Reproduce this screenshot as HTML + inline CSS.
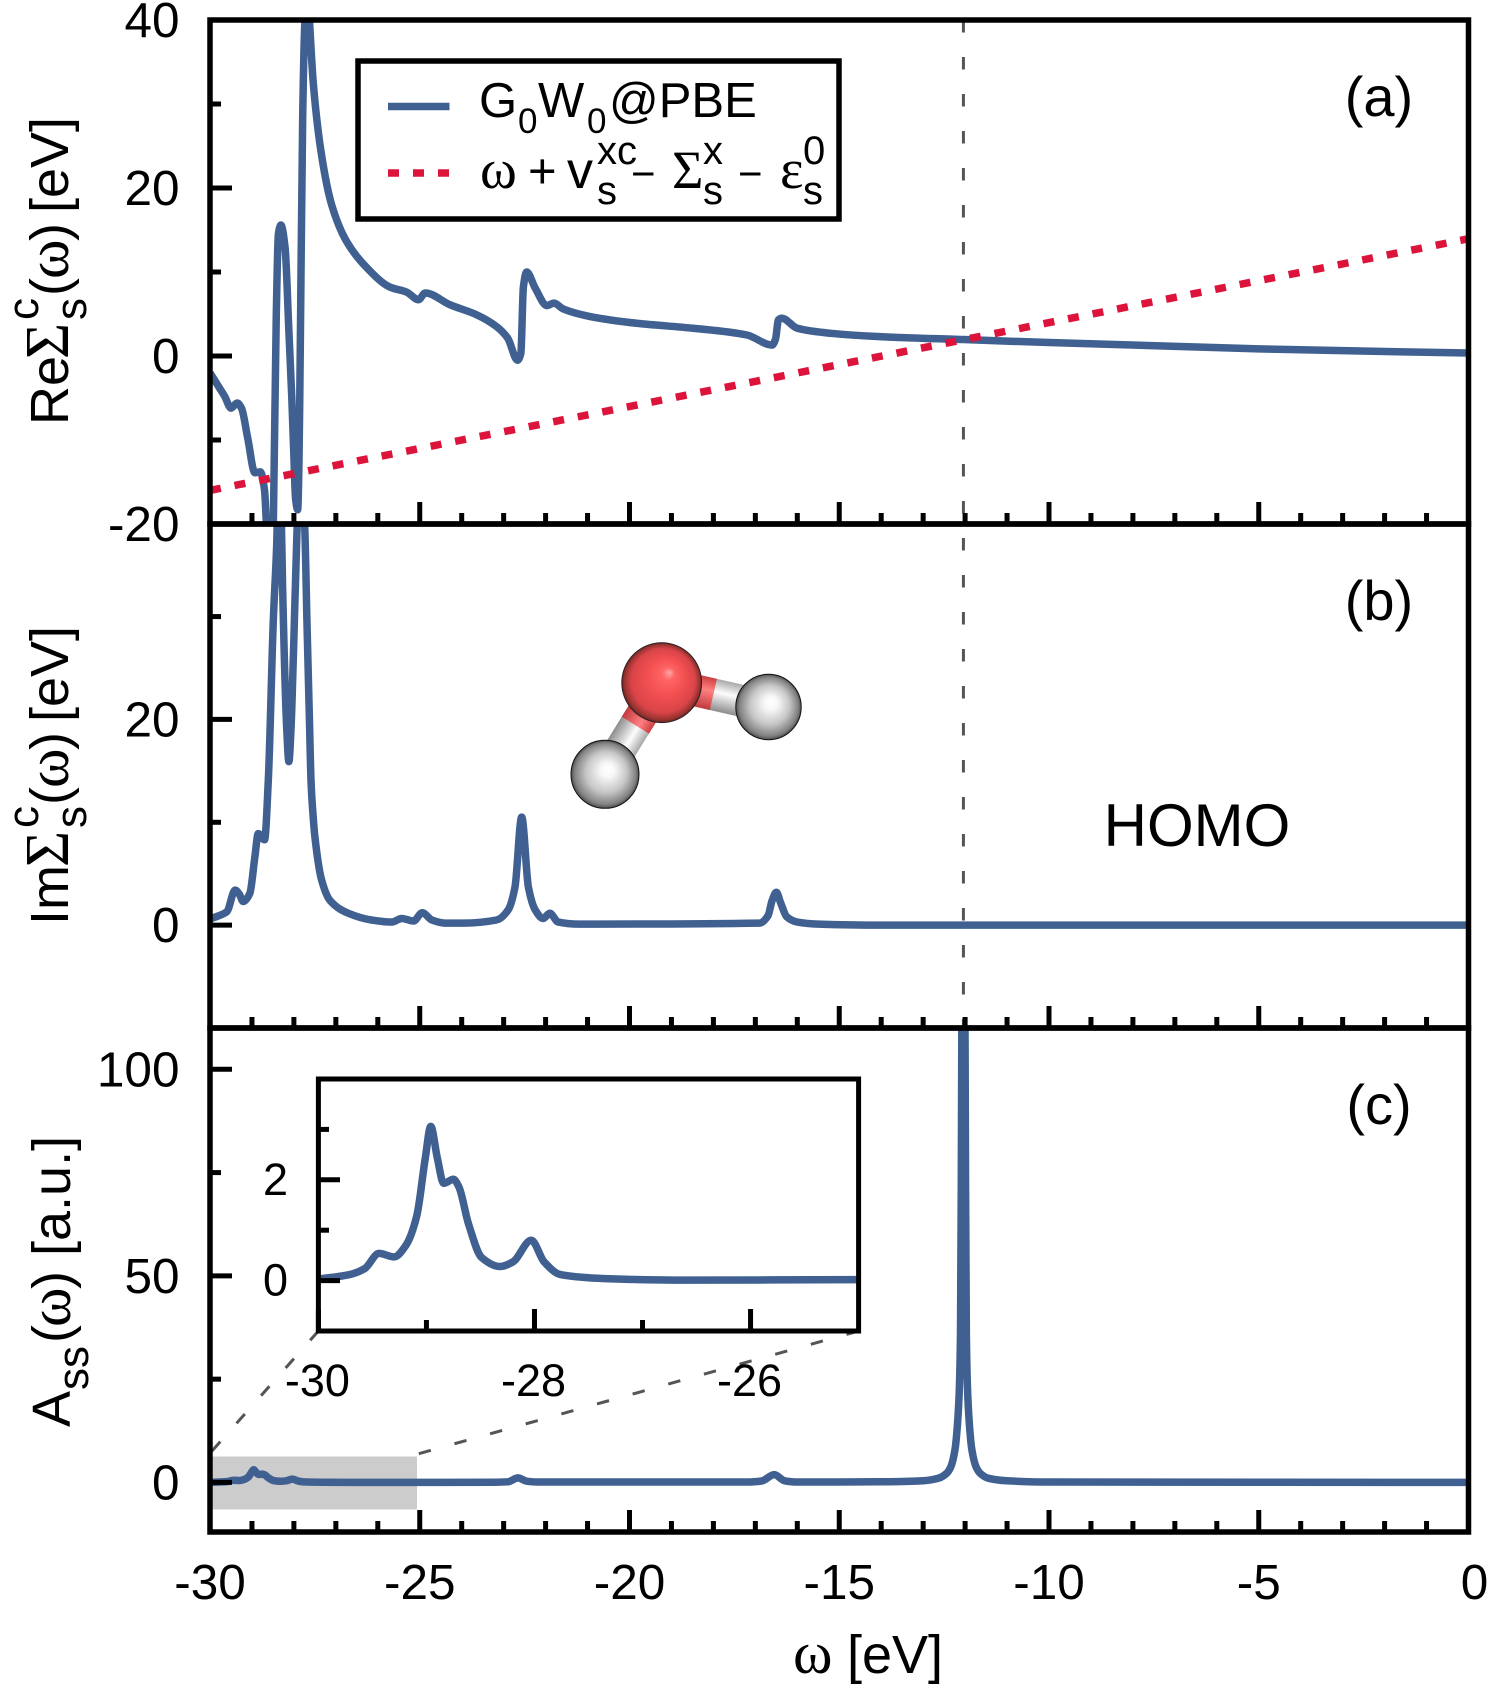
<!DOCTYPE html>
<html lang="en">
<head>
<meta charset="utf-8">
<title>G0W0 self-energy and spectral function of the water HOMO</title>
<style>
html,body{margin:0;padding:0;background:#fff;width:1500px;height:1700px;overflow:hidden}
svg{display:block}
text{font-family:"Liberation Sans",sans-serif;fill:#000}
.serif{font-family:"Liberation Serif",serif}
</style>
</head>
<body>
<svg id="figure" xmlns="http://www.w3.org/2000/svg" width="1500" height="1700" viewBox="0 0 1500 1700">
  <defs>
    <clipPath id="clip-a"><rect x="210" y="20" width="1258.5" height="504"/></clipPath>
    <clipPath id="clip-b"><rect x="210" y="524" width="1258.5" height="504"/></clipPath>
    <clipPath id="clip-c"><rect x="210" y="1028" width="1258.5" height="504"/></clipPath>
    <clipPath id="clip-inset"><rect x="318.4" y="1079" width="540.2" height="252"/></clipPath>
    <radialGradient id="oxygen-shade" cx="0.5" cy="0.5" r="0.5" fx="0.6" fy="0.37">
      <stop offset="0" stop-color="#ffa8a8"/><stop offset="0.16" stop-color="#ff6464"/>
      <stop offset="0.45" stop-color="#f45052"/><stop offset="0.8" stop-color="#d94448"/>
      <stop offset="0.95" stop-color="#94322f"/><stop offset="1" stop-color="#5c1f20"/>
    </radialGradient>
    <radialGradient id="hydrogen-shade" cx="0.5" cy="0.5" r="0.5" fx="0.55" fy="0.42">
      <stop offset="0" stop-color="#ffffff"/><stop offset="0.2" stop-color="#f8f8f8"/>
      <stop offset="0.6" stop-color="#c6c6c6"/><stop offset="0.9" stop-color="#828282"/><stop offset="1" stop-color="#4e4e4e"/>
    </radialGradient>
    <linearGradient id="bond-grey" x1="0" y1="0" x2="0" y2="1">
      <stop offset="0" stop-color="#a8a8a8"/><stop offset="0.4" stop-color="#fdfdfd"/><stop offset="1" stop-color="#8c8c8c"/>
    </linearGradient>
    <linearGradient id="bond-red" x1="0" y1="0" x2="0" y2="1">
      <stop offset="0" stop-color="#cf3f42"/><stop offset="0.4" stop-color="#ff8080"/><stop offset="1" stop-color="#c23a3d"/>
    </linearGradient>
  </defs>

  <g id="layer-gray">
    <rect x="212" y="1456.5" width="205" height="53" fill="#cccccc"/>
  </g>
  <g id="layer-guides">
    <line x1="212" y1="1451" x2="318.4" y2="1331" stroke="#555" stroke-width="3" stroke-dasharray="12.5 24.5"/>
    <line x1="418.8" y1="1453.7" x2="858.6" y2="1331" stroke="#555" stroke-width="3" stroke-dasharray="12.5 24.5"/>
  </g>
  <g id="layer-curves"></g>

  <g>
    <g transform="translate(661.7,682.7) rotate(121.8)">
      <rect x="0" y="-16" width="108" height="32" fill="url(#bond-grey)"/>
      <rect x="0" y="-16" width="50" height="32" fill="url(#bond-red)"/>
    </g>
    <g transform="translate(661.7,682.7) rotate(12.8)">
      <rect x="0" y="-16" width="108" height="32" fill="url(#bond-grey)"/>
      <rect x="0" y="-16" width="53" height="32" fill="url(#bond-red)"/>
    </g>
    <circle cx="661.7" cy="682.7" r="40" fill="url(#oxygen-shade)" stroke="#222" stroke-width="0.8"/>
    <circle cx="605" cy="774.3" r="34" fill="url(#hydrogen-shade)" stroke="#111" stroke-width="1"/>
    <circle cx="768.5" cy="707" r="32.7" fill="url(#hydrogen-shade)" stroke="#111" stroke-width="1"/>
  </g>

  <g fill="none" stroke="#000" stroke-width="5.5">
    <rect x="210" y="20" width="1258.5" height="504"/>
    <rect x="210" y="524" width="1258.5" height="504"/>
    <rect x="210" y="1028" width="1258.5" height="504"/>
    <rect x="318.4" y="1079" width="540.2" height="252" stroke-width="5"/>
  </g>
  <g id="layer-axes"></g>

  <g>
    <rect x="358" y="61" width="481" height="158" fill="#fff" stroke="#000" stroke-width="5.5"/>
    <line x1="388" y1="106.5" x2="449.5" y2="106.5" stroke="#3f6090" stroke-width="7.5"/>
    <line x1="388" y1="173" x2="449" y2="173" stroke="#dc143c" stroke-width="7.5" stroke-dasharray="11 14"/>
    <g font-size="49">
      <text x="479" y="117">G</text>
      <text x="518" y="133" font-size="35">0</text>
      <text x="538" y="117">W</text>
      <text x="587" y="133" font-size="35">0</text>
      <text x="609" y="117">@PBE</text>
    </g>
    <g font-size="49">
      <text class="serif" x="480" y="188" font-size="56">ω</text>
      <text x="528" y="188">+</text>
      <text x="567" y="188" font-size="52">v</text>
      <text x="597" y="164" font-size="40">xc</text>
      <text x="597" y="204" font-size="40">s</text>
      <text x="631" y="188" font-size="42">−</text>
      <text class="serif" x="672" y="188" font-size="54">Σ</text>
      <text x="703" y="164" font-size="40">x</text>
      <text x="703" y="204" font-size="40">s</text>
      <text x="738" y="188" font-size="42">−</text>
      <text class="serif" x="780" y="188" font-size="56">ε</text>
      <text x="803" y="164" font-size="40">0</text>
      <text x="803" y="204" font-size="40">s</text>
    </g>
  </g>

  <text x="1379" y="116" font-size="56" text-anchor="middle">(a)</text>
  <text x="1379" y="620" font-size="56" text-anchor="middle">(b)</text>
  <text x="1379" y="1124" font-size="56" text-anchor="middle">(c)</text>
  <text x="1197" y="846" font-size="60" text-anchor="middle">HOMO</text>

  <g transform="translate(68,425) rotate(-90)" font-size="54">
    <text x="0" y="0">Re</text>
    <text class="serif" x="66" y="0" font-size="62">Σ</text>
    <text x="105" y="-30" font-size="44">c</text>
    <text x="105" y="18" font-size="44">s</text>
    <text x="129" y="0">(</text>
    <text class="serif" x="146" y="0" font-size="60">ω</text>
    <text x="184" y="0">)</text>
    <text x="212" y="0">[eV]</text>
  </g>
  <g transform="translate(68,925) rotate(-90)" font-size="54">
    <text x="0" y="0">Im</text>
    <text class="serif" x="58" y="0" font-size="62">Σ</text>
    <text x="97" y="-30" font-size="44">c</text>
    <text x="97" y="18" font-size="44">s</text>
    <text x="120" y="0">(</text>
    <text class="serif" x="137" y="0" font-size="60">ω</text>
    <text x="175" y="0">)</text>
    <text x="203" y="0">[eV]</text>
  </g>
  <g transform="translate(70,1427) rotate(-90)" font-size="54">
    <text x="0" y="0">A</text>
    <text x="37" y="18" font-size="44">ss</text>
    <text x="84" y="0">(</text>
    <text class="serif" x="100" y="0" font-size="60">ω</text>
    <text x="138" y="0">)</text>
    <text x="171" y="0">[a.u.]</text>
  </g>
  <g font-size="54">
    <text class="serif" x="793" y="1673" font-size="60">ω</text>
    <text x="847" y="1673">[eV]</text>
  </g>
</svg>

<script>
// ---- Panel (a): Re Sigma^c_s(omega) ----
const reOmega = [-30,-29.8,-29.65,-29.5,-29.35,-29.25,-29.1,-28.93,-28.8,-28.7,-28.65,-28.55,-28.49,-28.42,-28.37,-28.31,-28.21,-28.12,-28.05,-28,-27.96,-27.91,-27.88,-27.86,-27.84,-27.79,-27.74,-27.68,-27.63,-27.54,-27.34,-27.1,-26.74,-26.26,-25.71,-25.31,-25.03,-24.87,-24.28,-23.64,-23.17,-22.9,-22.67,-22.59,-22.53,-22.45,-22.25,-21.97,-21.8,-21.58,-20.94,-19.83,-18.48,-17.2,-16.6,-16.52,-16.45,-16.37,-16,-15.2,-14.03,-12.04,-10,-5,0];
const reValues = [-2,-3.6,-4.8,-6.2,-5.6,-6.2,-9.8,-13.9,-13.8,-16,-20.7,-32,-20,4.9,14.5,15.6,12.9,3,-5,-12,-17,-18.3,-13,-5,5,28.7,39.6,44,40,32.6,23.9,18,13.6,10.5,8.2,7.6,6.7,7.5,6.1,4.9,3.5,2.1,-0.5,0.3,8.2,10,8.1,6,6.3,5.6,4.7,3.9,3.3,2.5,1.3,2,4.3,4.5,3.3,2.7,2.3,1.96,1.6,0.85,0.35];
// Linear graphical-solution line: two end points
const lineOmega = [-30,0];
const lineValues = [-16,13.96];

// ---- Panel (b): Im Sigma^c_s(omega) ----
const imOmega = [-30,-29.8,-29.6,-29.4,-29.3,-29.21,-29.05,-28.93,-28.85,-28.7,-28.61,-28.49,-28.41,-28.36,-28.3,-28.27,-28.17,-28.12,-28.07,-28.01,-27.93,-27.85,-27.74,-27.69,-27.63,-27.59,-27.54,-27.5,-27.34,-27.14,-26.7,-26.15,-25.67,-25.43,-25.15,-24.94,-24.71,-24.4,-23.96,-23.17,-22.89,-22.73,-22.57,-22.41,-22.25,-22.06,-21.9,-21.7,-21.2,-16.9,-16.7,-16.6,-16.5,-16.4,-16.25,-16,-15.5,-14,0];
const imValues = [0.6,0.9,1.3,3.4,3,2.3,3.1,6.65,8.9,8.3,14.1,29.7,37,45,39.5,33,19,15.9,19,26.5,37.8,46,38.5,29.7,20,13.8,10.5,8.6,4.4,2.4,1.15,0.5,0.3,0.65,0.4,1.2,0.5,0.2,0.2,0.5,1.5,3.7,10.5,3.7,1.5,0.65,1.15,0.3,0.1,0.2,0.9,2.4,3.2,2.2,0.8,0.3,0.1,0,0];

// ---- Panel (c) and inset: spectral function A_ss(omega) ----
const specOmega = [-30,-29.71,-29.57,-29.44,-29.3,-29.19,-29.09,-29.01,-28.96,-28.9,-28.84,-28.75,-28.7,-28.61,-28.49,-28.32,-28.2,-28.03,-27.91,-27.76,-27.35,-26.7,-25,-23.2,-22.9,-22.66,-22.45,-22.2,-17.2,-16.85,-16.55,-16.3,-16,-14,-13,-12.64,-12.44,-12.34,-12.24,-12.19,-12.14,-12.11,-12.09,-12.08,-12.04,-12,-11.99,-11.97,-11.94,-11.89,-11.84,-11.74,-11.64,-11.44,-11,-10,0];
const specValues = [0.03,0.12,0.24,0.54,0.47,0.7,1.28,2.44,3.06,2.44,1.93,2.01,1.86,1.12,0.46,0.28,0.37,0.8,0.37,0.12,0.04,0.01,0.02,0.05,0.15,1.1,0.3,0.1,0.1,0.35,1.9,0.4,0.1,0.15,0.4,1,2.2,3.8,8,13,22,36,75,105,170,105,75,36,22,13,8,3.8,2.2,1,0.4,0.1,0];

// ---- Tick values and labels ----
const xMajorTicks = [-30,-25,-20,-15,-10,-5,0];
const xMinorTicks = [-29,-28,-27,-26,-24,-23,-22,-21,-19,-18,-17,-16,-14,-13,-12,-11,-9,-8,-7,-6,-4,-3,-2,-1];
const xTickLabels = ['-30','-25','-20','-15','-10','-5','0'];
const reMajorTicks = [40,20,0,-20];
const reMinorTicks = [30,10,-10];
const reTickLabels = ['40','20','0','-20'];
const imMajorTicks = [20,0];
const imMinorTicks = [30,10];
const imTickLabels = ['20','0'];
const specMajorTicks = [100,50,0];
const specMinorTicks = [75,25];
const specTickLabels = ['100','50','0'];
const insetXMajor = [-30,-28,-26];
const insetXMinor = [-29,-27];
const insetXLabels = ['-30','-28','-26'];
const insetYMajor = [2,0];
const insetYMinor = [3,1];
const insetYLabels = ['2','0'];
const homoEnergy = [-12.04];

// ---- Axis functions ----
function xMain(w){ return 210 + (w + 30) * (1258.5 / 30); }
function yRe(v){ return 20 + (40 - v) * (504 / 60); }
function yIm(v){ return 524 + (39 - v) * (504 / 49); }
function ySpec(v){ return 1028 + (110 - v) * (504 / 122); }
function xInset(w){ return 318.4 + (w + 30) * (540.2 / 5); }
function yInset(v){ return 1079 + (4 - v) * (252 / 5); }

const NS = 'http://www.w3.org/2000/svg';
const curves = document.getElementById('layer-curves');
const axes = document.getElementById('layer-axes');
const guides = document.getElementById('layer-guides');

function mk(tag, attrs, parent){
  const el = document.createElementNS(NS, tag);
  for (const k in attrs) el.setAttribute(k, attrs[k]);
  parent.appendChild(el);
  return el;
}

// Monotone cubic interpolation through the data points, so peaks do not overshoot
function curvePath(xs, ys, fx, fy){
  const px = xs.map(fx), py = ys.map(fy), n = px.length;
  const h = [], s = [], t = new Array(n);
  for (let i = 0; i < n - 1; i++){ h[i] = px[i+1] - px[i]; s[i] = (py[i+1] - py[i]) / h[i]; }
  t[0] = s[0]; t[n-1] = s[n-2];
  for (let i = 1; i < n - 1; i++){
    if (s[i-1] * s[i] <= 0) t[i] = 0;
    else t[i] = 3 * (h[i-1] + h[i]) / ((2*h[i] + h[i-1]) / s[i-1] + (h[i] + 2*h[i-1]) / s[i]);
  }
  let d = 'M' + px[0].toFixed(2) + ' ' + py[0].toFixed(2);
  for (let i = 0; i < n - 1; i++){
    const c = h[i] / 3;
    d += 'C' + (px[i]+c).toFixed(2) + ' ' + (py[i]+t[i]*c).toFixed(2) + ' ' +
         (px[i+1]-c).toFixed(2) + ' ' + (py[i+1]-t[i+1]*c).toFixed(2) + ' ' +
         px[i+1].toFixed(2) + ' ' + py[i+1].toFixed(2);
  }
  return d;
}

const BLUE = '#3f6090', RED = '#dc143c';
const curveStyle = {fill:'none', stroke:BLUE, 'stroke-width':7.5, 'stroke-linejoin':'round'};

const reCurve = mk('path', Object.assign({d:curvePath(reOmega, reValues, xMain, yRe), 'clip-path':'url(#clip-a)'}, curveStyle), curves);



const linearCurve = mk('line', {x1:xMain(lineOmega[0]), y1:yRe(lineValues[0]), x2:xMain(lineOmega[1]), y2:yRe(lineValues[1]), stroke:RED, 'stroke-width':7.5, 'stroke-dasharray':'11 14', 'clip-path':'url(#clip-a)'}, curves);



const imCurve = mk('path', Object.assign({d:curvePath(imOmega, imValues, xMain, yIm), 'clip-path':'url(#clip-b)'}, curveStyle), curves);



const specCurve = mk('path', Object.assign({d:curvePath(specOmega, specValues, xMain, ySpec), 'clip-path':'url(#clip-c)'}, curveStyle), curves);



const insetCurve = mk('path', Object.assign({d:curvePath(specOmega, specValues, xInset, yInset), 'clip-path':'url(#clip-inset)'}, curveStyle), curves);



// Dashed guide at the quasiparticle energy
homoEnergy.forEach(function(w){
  const g = mk('line', {x1:xMain(w), x2:xMain(w), y1:20, y2:1028, stroke:'#555', 'stroke-width':3, 'stroke-dasharray':'12.5 24.5'}, guides);
  
  
});

// X ticks on the bottom edge of every panel (inward)
[524, 1028, 1532].forEach(function(base){
  xMajorTicks.forEach(function(w){
    const t = mk('line', {x1:xMain(w), x2:xMain(w), y1:base, y2:base-22, stroke:'#000', 'stroke-width':5}, axes);
    
    
  });
  xMinorTicks.forEach(function(w){
    const t = mk('line', {x1:xMain(w), x2:xMain(w), y1:base, y2:base-11, stroke:'#000', 'stroke-width':5}, axes);
    
    
  });
});

xMajorTicks.forEach(function(w, i){
  const shift = w === 0 ? 6 : 0;
  const l = mk('text', {x:xMain(w)+shift, y:1599, 'font-size':49.5, 'text-anchor':'middle'}, axes);
  
  
  l.textContent = xTickLabels[i];
});

// Y ticks for the three main panels
function yTicks(major, minor, labels, fy, name){
  major.forEach(function(v, i){
    const t = mk('line', {x1:210, x2:232, y1:fy(v), y2:fy(v), stroke:'#000', 'stroke-width':5}, axes);
    
    
    const l = mk('text', {x:179.5, y:fy(v)+17, 'font-size':49.5, 'text-anchor':'end'}, axes);
    
    
    l.textContent = labels[i];
  });
  minor.forEach(function(v){
    const t = mk('line', {x1:210, x2:221, y1:fy(v), y2:fy(v), stroke:'#000', 'stroke-width':5}, axes);
    
    
  });
}
yTicks(reMajorTicks, reMinorTicks, reTickLabels, yRe, 'y-re');
yTicks(imMajorTicks, imMinorTicks, imTickLabels, yIm, 'y-im');
yTicks(specMajorTicks, specMinorTicks, specTickLabels, ySpec, 'y-spec');

// Inset ticks
insetXMajor.forEach(function(w, i){
  const t = mk('line', {x1:xInset(w), x2:xInset(w), y1:1331, y2:1309, stroke:'#000', 'stroke-width':5}, axes);
  
  
  const l = mk('text', {x:xInset(w)-1, y:1396, 'font-size':45, 'text-anchor':'middle'}, axes);
  
  
  l.textContent = insetXLabels[i];
});
insetXMinor.forEach(function(w){
  const t = mk('line', {x1:xInset(w), x2:xInset(w), y1:1331, y2:1320, stroke:'#000', 'stroke-width':5}, axes);
  
  
});
insetYMajor.forEach(function(v, i){
  const t = mk('line', {x1:318.4, x2:340, y1:yInset(v), y2:yInset(v), stroke:'#000', 'stroke-width':5}, axes);
  
  
  const l = mk('text', {x:288, y:yInset(v)+15, 'font-size':45, 'text-anchor':'end'}, axes);
  
  
  l.textContent = insetYLabels[i];
});
insetYMinor.forEach(function(v){
  const t = mk('line', {x1:318.4, x2:329, y1:yInset(v), y2:yInset(v), stroke:'#000', 'stroke-width':5}, axes);
  
  
});
</script>
</body>
</html>
